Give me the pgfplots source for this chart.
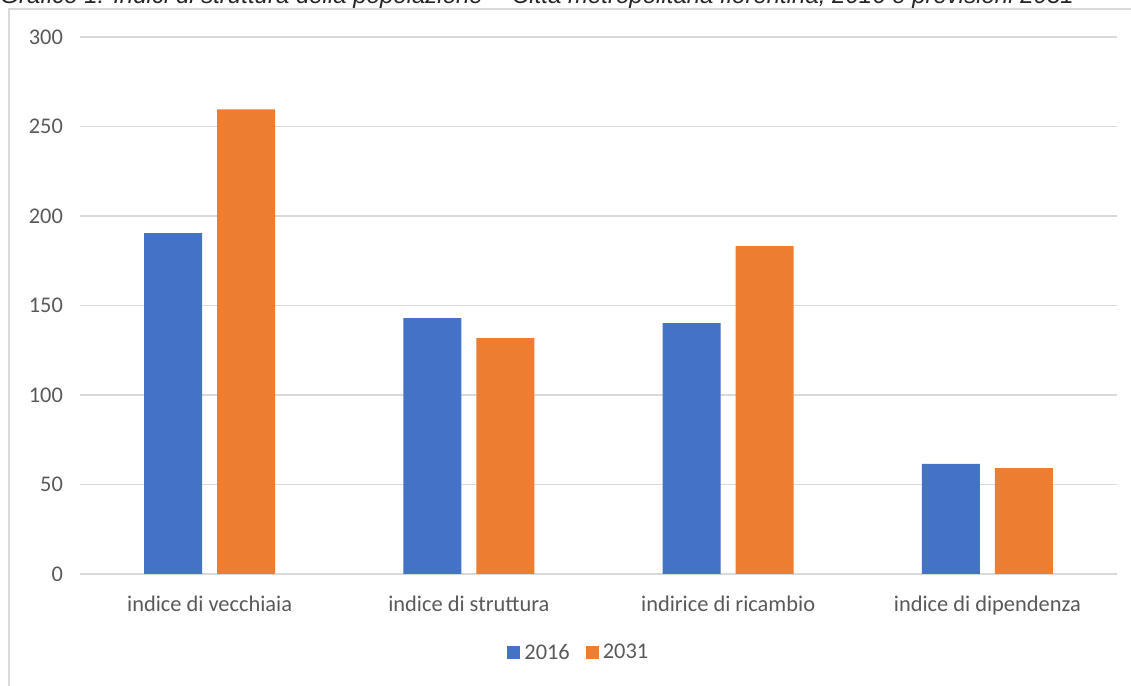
\documentclass[border=0pt]{standalone}
\usepackage{pgfplots}
\pgfplotsset{compat=1.18}
\usepackage{fontspec}
\setmainfont{Carlito}
\newfontfamily\titlefont{Liberation Sans}
\definecolor{c16}{HTML}{4472C4}
\definecolor{c31}{HTML}{ED7D31}
\definecolor{gridc}{HTML}{D9D9D9}
\definecolor{txt}{HTML}{595959}
\begin{document}
\begin{tikzpicture}
\useasboundingbox (0pt,0pt) rectangle (565.5pt,343pt);
% chart border
\draw[gridc, line width=0.75pt] (4.5pt,-10pt) -- (4.5pt,338.5pt) -- (580pt,338.5pt);
% title (partly cut off)
\node[anchor=base west, inner sep=0pt, font=\titlefont\itshape\fontsize{12pt}{14pt}\selectfont, text=black!85] at (0pt,341pt) {Grafico 1: Indici di struttura della popolazione -- Città metropolitana fiorentina, 2016 e previsioni 2031};
\begin{axis}[
  at={(40pt,56pt)}, anchor=south west,
  scale only axis, width=518.5pt, height=268.5pt,
  ybar=7.5pt, bar width=29pt,
  xmin=-0.5, xmax=3.5, ymin=0, ymax=300,
  xtick=data,
  xticklabels={indice di vecchiaia, indice di struttura, indirice di ricambio, indice di dipendenza},
  ytick={0,50,...,300},
  ymajorgrids, grid style={gridc, line width=0.75pt},
  axis line style={draw=none},
  tick style={draw=none},
  ticklabel style={font=\fontsize{11.2pt}{13pt}\selectfont, text=txt},
  xticklabel style={yshift=-3pt},
  yticklabel style={xshift=-5pt},
  /pgf/number format/assume math mode=true,
  legend style={at={(0.482,-0.147)}, anchor=center, draw=none, fill=none, legend columns=2, font=\fontsize{11.2pt}{13pt}\selectfont, text=txt, /tikz/every even column/.append style={column sep=6pt}},
  legend image code/.code={\fill[#1] (0pt,-3pt) rectangle (6.5pt,3.5pt);},
]
\addplot[fill=c16, draw=none] coordinates {(0,190.5) (1,143.0) (2,140.2) (3,61.5)};
\addplot[fill=c31, draw=none] coordinates {(0,259.6) (1,131.8) (2,183.2) (3,59.2)};
\legend{2016, 2031}
\end{axis}
\end{tikzpicture}
\end{document}
